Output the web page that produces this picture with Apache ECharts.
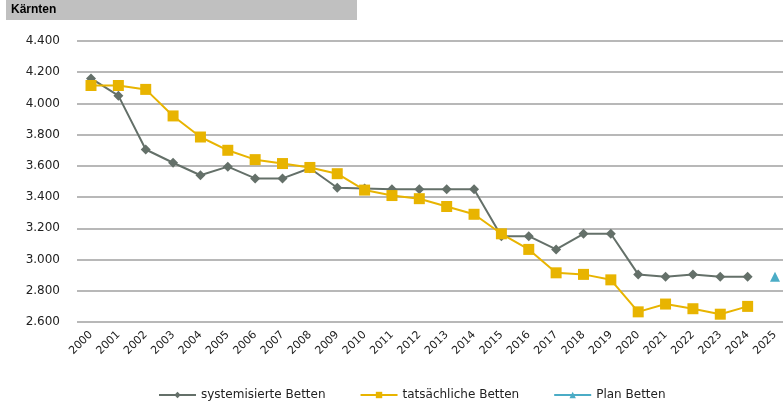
<!DOCTYPE html>
<html>
<head>
<meta charset="utf-8">
<script src="https://cdn.jsdelivr.net/npm/echarts@6/dist/echarts.min.js"></script>
<style>
  html, body { margin: 0; padding: 0; background: #fff; }
  #chart { width: 783px; height: 403px; }
</style>
</head>
<body>
<div id="chart"></div>
<script>
const years = ['2000','2001','2002','2003','2004','2005','2006','2007','2008','2009','2010','2011','2012',
  '2013','2014','2015','2016','2017','2018','2019','2020','2021','2022','2023','2024','2025']
// systemisierte Betten
const systemisiert = [4160,4050,3705,3620,3540,3595,3520,3520,3585,3460,3455,3450,3450,
  3450,3450,3150,3150,3065,3165,3165,2905,2890,2905,2890,2890,null]
// tatsächliche Betten
const tatsaechlich = [4115,4115,4090,3920,3785,3700,3640,3615,3590,3550,3445,3410,3390,
  3340,3290,3165,3065,2915,2905,2870,2665,2715,2685,2650,2700,null]
// Plan Betten
const plan = [null,null,null,null,null,null,null,null,null,null,null,null,null,
  null,null,null,null,null,null,null,null,null,null,null,null,2890]

const fmt = v => String(v).replace(/\B(?=(\d{3})+(?!\d))/g, '.')

const chart = echarts.init(document.getElementById('chart'))
chart.setOption({
  animation: false,
  textStyle: { fontFamily: 'DejaVu Sans' },
  graphic: [
    { type: 'rect', shape: { x: 6, y: 0, width: 351, height: 20 }, style: { fill: '#c0c0c0' } },
    { type: 'text', left: 11, top: 4, style: { text: 'Kärnten', font: 'bold 12px Liberation Sans', fill: '#000' } }
  ],
  // grid 0 only carries the gridlines and y labels, grid 1 the data
  grid: [
    { left: 77, right: 0, top: 41, height: 281 },
    { left: 91, right: 8, top: 41, height: 281 }
  ],
  legend: {
    top: 384,
    left: 153,
    itemWidth: 37,
    itemHeight: 8,
    itemGap: 34,
    textStyle: { fontSize: 12, color: '#222' },
    data: ['systemisierte Betten', 'tatsächliche Betten', 'Plan Betten']
  },
  xAxis: [
    { type: 'category', gridIndex: 0, data: years, show: false },
    {
      type: 'category',
      gridIndex: 1,
      data: years,
      boundaryGap: false,
      axisLine: { show: false },
      axisTick: { show: false },
      axisLabel: { rotate: 45, fontSize: 11, color: '#222', margin: 11, interval: 0 },
      splitLine: { show: false }
    }
  ],
  yAxis: [
    {
      type: 'value',
      gridIndex: 0,
      min: 2600,
      max: 4400,
      interval: 200,
      axisLine: { show: false },
      axisTick: { show: false },
      axisLabel: { fontSize: 12, color: '#222', margin: 17, formatter: v => fmt(v) },
      splitLine: { lineStyle: { color: '#a0a0a0', width: 1.5 } }
    },
    {
      type: 'value',
      gridIndex: 1,
      min: 2600,
      max: 4400,
      interval: 200,
      show: false,
      splitLine: { show: false }
    }
  ],
  series: [
    {
      name: 'systemisierte Betten',
      type: 'line',
      xAxisIndex: 1,
      yAxisIndex: 1,
      data: systemisiert,
      symbol: 'diamond',
      symbolSize: 10,
      color: '#647069',
      lineStyle: { width: 2 }
    },
    {
      name: 'tatsächliche Betten',
      type: 'line',
      xAxisIndex: 1,
      yAxisIndex: 1,
      data: tatsaechlich,
      symbol: 'rect',
      symbolSize: 11,
      color: '#e8b400',
      lineStyle: { width: 2 }
    },
    {
      name: 'Plan Betten',
      type: 'line',
      xAxisIndex: 1,
      yAxisIndex: 1,
      data: plan,
      symbol: 'triangle',
      symbolSize: 10,
      color: '#4bacc6',
      lineStyle: { width: 2 }
    }
  ]
})
</script>
</body>
</html>
